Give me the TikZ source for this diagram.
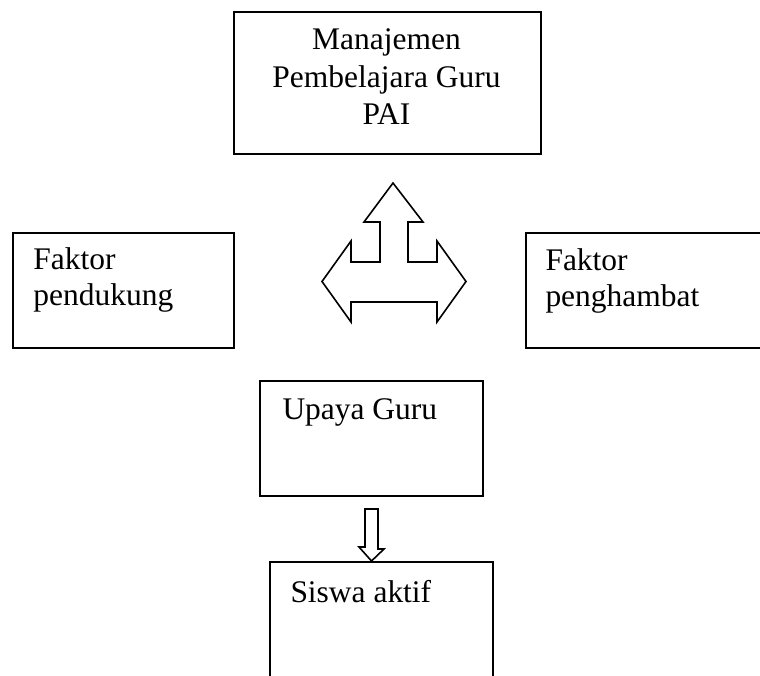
\documentclass[tikz,border=0pt]{standalone}
\usepackage{fontspec}
\setmainfont{Liberation Serif}
\usetikzlibrary{calc}

\tikzset{every picture/.style={line width=0.75pt}}
\tikzset{kotak/.style={draw, line width=1.5pt, rectangle, anchor=north west, inner sep=0pt},
         teks/.style={inner sep=0pt, align=left, font=\fontsize{23.6}{26.6}\selectfont},
         panah/.style={draw, line width=1.2pt, line join=miter}}

\begin{document}
\begin{tikzpicture}[x=0.75pt,y=0.75pt,yscale=-1,xscale=1]
\clip (0,0) rectangle (760,675);

%Shape: Rectangle [manajemen]
\node (manajemen) [kotak, minimum width=230.25pt, minimum height=106.5pt] at (233,11) {};
%Shape: Rectangle [pendukung]
\node (pendukung) [kotak, minimum width=165.75pt, minimum height=86.25pt] at (12,232) {};
%Shape: Rectangle [penghambat]
\node (penghambat) [kotak, minimum width=206.25pt, minimum height=86.25pt] at (525,232) {};
%Shape: Rectangle [upaya]
\node (upaya) [kotak, minimum width=167.25pt, minimum height=86.25pt] at (259,380) {};
%Shape: Rectangle [siswa]
\node (siswa) [kotak, minimum width=167.25pt, minimum height=104.25pt] at (269,561) {};

%Shape: Three-way arrow
\draw [panah] (393,183) -- (423,222) -- (408,222) -- (408,262) -- (437,262) -- (437,241) -- (466,281.5) -- (437,322) -- (437,302) -- (351,302) -- (351,322) -- (322,281.5) -- (351,241) -- (351,262) -- (380,262) -- (380,222) -- (364,222) -- cycle ;

%Shape: Down arrow
\draw [panah] ($(upaya.south)+(-6.5,12)$) -- ++(13,0) -- ++(0,40) -- ++(6,0) -- (siswa.north -| upaya.south) -- ++(-12.5,-14) -- ++(6,0) -- cycle ;

\node (tjudul) [teks, align=center, font=\fontsize{23.6}{28.1}\selectfont] at (386.5,76.6) {Manajemen\\Pembelajara Guru\\PAI};
\node (tpendukung) [teks, anchor=base west] at (33,305) {Faktor\\pendukung};
\node (tpenghambat) [teks, anchor=base west] at (545,306) {Faktor\\penghambat};
\node (tupaya) [teks, anchor=base west] at (282,419) {Upaya Guru};
\node (tsiswa) [teks, anchor=base west] at (290,602) {Siswa aktif};

\end{tikzpicture}
\end{document}
